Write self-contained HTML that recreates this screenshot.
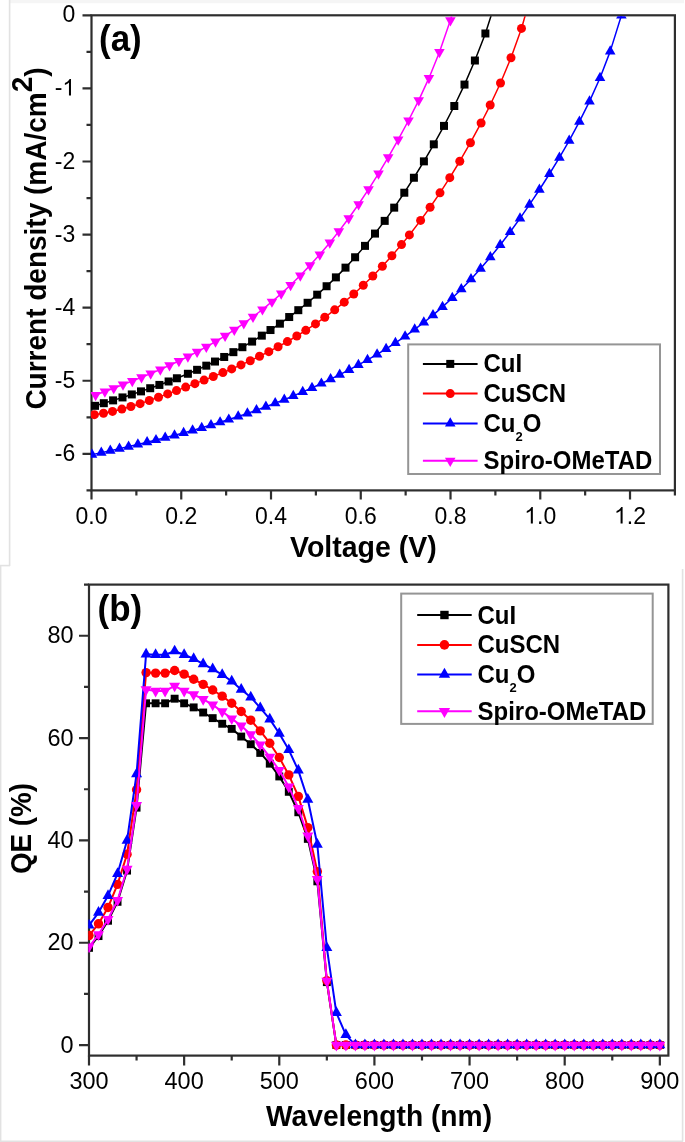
<!DOCTYPE html>
<html><head><meta charset="utf-8"><title>J-V and QE</title>
<style>html,body{margin:0;padding:0;background:#fff;width:685px;height:1142px;overflow:hidden}
body{position:relative}</style></head>
<body>
<svg width="685" height="1142" viewBox="0 0 685 1142" style="position:absolute;left:0;top:0;filter:blur(0.4px)">
<defs>
<clipPath id="ca"><rect x="90.9" y="16.3" width="584.0" height="474.09999999999997"/></clipPath>
<clipPath id="cb"><rect x="88.3" y="585.6" width="580.1" height="469.9999999999999"/></clipPath>
</defs>
<rect x="9" y="0" width="675" height="3.2" fill="#f5f5f5"/>
<line x1="9.6" y1="0" x2="9.6" y2="566" stroke="#e2e2e2" stroke-width="1.6"/>
<line x1="0" y1="565.6" x2="10" y2="565.6" stroke="#e2e2e2" stroke-width="1.6"/>
<line x1="0.6" y1="566" x2="0.6" y2="1142" stroke="#e2e2e2" stroke-width="1.6"/>
<line x1="682.6" y1="569" x2="682.6" y2="1141.5" stroke="#e2e2e2" stroke-width="1.6"/>
<line x1="0" y1="1141.2" x2="683" y2="1141.2" stroke="#e2e2e2" stroke-width="1.6"/>
<rect x="91.5" y="15.3" width="583.4" height="475.1" fill="none" stroke="#2e2e2e" stroke-width="2.2"/>
<path d="M91.5 490.4v9M136.38 490.4v5M181.25 490.4v9M226.13 490.4v5M271.01 490.4v9M315.88 490.4v5M360.76 490.4v9M405.64 490.4v5M450.52 490.4v9M495.39 490.4v5M540.27 490.4v9M585.15 490.4v5M630.02 490.4v9M674.9 490.4v5M91.5 15.3h-9M91.5 51.85h-5M91.5 88.39h-9M91.5 124.94h-5M91.5 161.48h-9M91.5 198.03h-5M91.5 234.58h-9M91.5 271.12h-5M91.5 307.67h-9M91.5 344.22h-5M91.5 380.76h-9M91.5 417.31h-5M91.5 453.85h-9M91.5 490.4h-5" stroke="#2e2e2e" stroke-width="2.2" fill="none"/>
<g clip-path="url(#ca)">
<polyline points="95,405.83 103.8,403.2 113.1,400.37 122.5,397.43 131.8,394.44 141,391.38 150.2,388.22 159.4,384.92 168.6,381.49 176.9,378.26 187.9,373.77 197.1,369.82 206.3,365.67 215,361.55 224.2,356.97 233.4,352.16 242.4,347.2 252.1,341.58 261.8,335.64 270.5,330.03 279.9,323.67 289.2,317.03 298.3,310.18 307.6,302.78 317.2,294.67 326.6,286.24 335.9,277.37 345.5,267.64 355.1,257.27 365,245.87 375,233.58 384.7,220.87 394.2,207.64 404.3,192.72 413.9,177.75 423.9,161.36 433.8,144.33 444,125.9 454.3,106 464.5,84.58 474.9,60.52 485.4,33.49 496.21,-0.35" fill="none" stroke="#000000" stroke-width="1.5" stroke-linejoin="round"/>
<rect x="91" y="401.83" width="8" height="8" fill="#000000"/>
<rect x="99.8" y="399.2" width="8" height="8" fill="#000000"/>
<rect x="109.1" y="396.37" width="8" height="8" fill="#000000"/>
<rect x="118.5" y="393.43" width="8" height="8" fill="#000000"/>
<rect x="127.8" y="390.44" width="8" height="8" fill="#000000"/>
<rect x="137" y="387.38" width="8" height="8" fill="#000000"/>
<rect x="146.2" y="384.22" width="8" height="8" fill="#000000"/>
<rect x="155.4" y="380.92" width="8" height="8" fill="#000000"/>
<rect x="164.6" y="377.49" width="8" height="8" fill="#000000"/>
<rect x="172.9" y="374.26" width="8" height="8" fill="#000000"/>
<rect x="183.9" y="369.77" width="8" height="8" fill="#000000"/>
<rect x="193.1" y="365.82" width="8" height="8" fill="#000000"/>
<rect x="202.3" y="361.67" width="8" height="8" fill="#000000"/>
<rect x="211" y="357.55" width="8" height="8" fill="#000000"/>
<rect x="220.2" y="352.97" width="8" height="8" fill="#000000"/>
<rect x="229.4" y="348.16" width="8" height="8" fill="#000000"/>
<rect x="238.4" y="343.2" width="8" height="8" fill="#000000"/>
<rect x="248.1" y="337.58" width="8" height="8" fill="#000000"/>
<rect x="257.8" y="331.64" width="8" height="8" fill="#000000"/>
<rect x="266.5" y="326.03" width="8" height="8" fill="#000000"/>
<rect x="275.9" y="319.67" width="8" height="8" fill="#000000"/>
<rect x="285.2" y="313.03" width="8" height="8" fill="#000000"/>
<rect x="294.3" y="306.18" width="8" height="8" fill="#000000"/>
<rect x="303.6" y="298.78" width="8" height="8" fill="#000000"/>
<rect x="313.2" y="290.67" width="8" height="8" fill="#000000"/>
<rect x="322.6" y="282.24" width="8" height="8" fill="#000000"/>
<rect x="331.9" y="273.37" width="8" height="8" fill="#000000"/>
<rect x="341.5" y="263.64" width="8" height="8" fill="#000000"/>
<rect x="351.1" y="253.27" width="8" height="8" fill="#000000"/>
<rect x="361" y="241.87" width="8" height="8" fill="#000000"/>
<rect x="371" y="229.58" width="8" height="8" fill="#000000"/>
<rect x="380.7" y="216.87" width="8" height="8" fill="#000000"/>
<rect x="390.2" y="203.64" width="8" height="8" fill="#000000"/>
<rect x="400.3" y="188.72" width="8" height="8" fill="#000000"/>
<rect x="409.9" y="173.75" width="8" height="8" fill="#000000"/>
<rect x="419.9" y="157.36" width="8" height="8" fill="#000000"/>
<rect x="429.8" y="140.33" width="8" height="8" fill="#000000"/>
<rect x="440" y="121.9" width="8" height="8" fill="#000000"/>
<rect x="450.3" y="102" width="8" height="8" fill="#000000"/>
<rect x="460.5" y="80.58" width="8" height="8" fill="#000000"/>
<rect x="470.9" y="56.52" width="8" height="8" fill="#000000"/>
<rect x="481.4" y="29.49" width="8" height="8" fill="#000000"/>
<rect x="492.21" y="-4.35" width="8" height="8" fill="#000000"/>
<polyline points="94.4,414.64 103.5,413.23 112.5,411.41 121.9,409.09 130.9,406.54 140.1,403.66 149.3,400.55 158.5,397.27 167.7,393.88 176.5,390.58 185.7,387.12 194.9,383.63 204.1,380.1 213.3,376.49 222.9,372.61 231.7,368.94 240.98,364.91 250.26,360.71 259.54,356.3 268.82,351.66 278.1,346.76 287.4,341.57 296.8,336 305.8,330.36 315.5,323.89 324.8,317.29 334.7,309.82 344.23,302.14 353.77,293.97 363.3,285.28 372.83,276.03 382.37,266.21 391.9,255.77 401.5,244.62 409.4,234.94 420.6,220.39 430.1,207.28 440,192.81 449.8,177.64 459.8,161.24 470.45,142.7 481.1,122.97 490.2,105.05 500.5,83.02 511,57.77 521.5,28.43 532.32,-9.31" fill="none" stroke="#ff0000" stroke-width="1.5" stroke-linejoin="round"/>
<circle cx="94.4" cy="414.64" r="4.5" fill="#ff0000"/>
<circle cx="103.5" cy="413.23" r="4.5" fill="#ff0000"/>
<circle cx="112.5" cy="411.41" r="4.5" fill="#ff0000"/>
<circle cx="121.9" cy="409.09" r="4.5" fill="#ff0000"/>
<circle cx="130.9" cy="406.54" r="4.5" fill="#ff0000"/>
<circle cx="140.1" cy="403.66" r="4.5" fill="#ff0000"/>
<circle cx="149.3" cy="400.55" r="4.5" fill="#ff0000"/>
<circle cx="158.5" cy="397.27" r="4.5" fill="#ff0000"/>
<circle cx="167.7" cy="393.88" r="4.5" fill="#ff0000"/>
<circle cx="176.5" cy="390.58" r="4.5" fill="#ff0000"/>
<circle cx="185.7" cy="387.12" r="4.5" fill="#ff0000"/>
<circle cx="194.9" cy="383.63" r="4.5" fill="#ff0000"/>
<circle cx="204.1" cy="380.1" r="4.5" fill="#ff0000"/>
<circle cx="213.3" cy="376.49" r="4.5" fill="#ff0000"/>
<circle cx="222.9" cy="372.61" r="4.5" fill="#ff0000"/>
<circle cx="231.7" cy="368.94" r="4.5" fill="#ff0000"/>
<circle cx="240.98" cy="364.91" r="4.5" fill="#ff0000"/>
<circle cx="250.26" cy="360.71" r="4.5" fill="#ff0000"/>
<circle cx="259.54" cy="356.3" r="4.5" fill="#ff0000"/>
<circle cx="268.82" cy="351.66" r="4.5" fill="#ff0000"/>
<circle cx="278.1" cy="346.76" r="4.5" fill="#ff0000"/>
<circle cx="287.4" cy="341.57" r="4.5" fill="#ff0000"/>
<circle cx="296.8" cy="336" r="4.5" fill="#ff0000"/>
<circle cx="305.8" cy="330.36" r="4.5" fill="#ff0000"/>
<circle cx="315.5" cy="323.89" r="4.5" fill="#ff0000"/>
<circle cx="324.8" cy="317.29" r="4.5" fill="#ff0000"/>
<circle cx="334.7" cy="309.82" r="4.5" fill="#ff0000"/>
<circle cx="344.23" cy="302.14" r="4.5" fill="#ff0000"/>
<circle cx="353.77" cy="293.97" r="4.5" fill="#ff0000"/>
<circle cx="363.3" cy="285.28" r="4.5" fill="#ff0000"/>
<circle cx="372.83" cy="276.03" r="4.5" fill="#ff0000"/>
<circle cx="382.37" cy="266.21" r="4.5" fill="#ff0000"/>
<circle cx="391.9" cy="255.77" r="4.5" fill="#ff0000"/>
<circle cx="401.5" cy="244.62" r="4.5" fill="#ff0000"/>
<circle cx="409.4" cy="234.94" r="4.5" fill="#ff0000"/>
<circle cx="420.6" cy="220.39" r="4.5" fill="#ff0000"/>
<circle cx="430.1" cy="207.28" r="4.5" fill="#ff0000"/>
<circle cx="440" cy="192.81" r="4.5" fill="#ff0000"/>
<circle cx="449.8" cy="177.64" r="4.5" fill="#ff0000"/>
<circle cx="459.8" cy="161.24" r="4.5" fill="#ff0000"/>
<circle cx="470.45" cy="142.7" r="4.5" fill="#ff0000"/>
<circle cx="481.1" cy="122.97" r="4.5" fill="#ff0000"/>
<circle cx="490.2" cy="105.05" r="4.5" fill="#ff0000"/>
<circle cx="500.5" cy="83.02" r="4.5" fill="#ff0000"/>
<circle cx="511" cy="57.77" r="4.5" fill="#ff0000"/>
<circle cx="521.5" cy="28.43" r="4.5" fill="#ff0000"/>
<circle cx="532.32" cy="-9.31" r="4.5" fill="#ff0000"/>
<polyline points="92,454.62 101.3,452.63 110.3,450.68 119.5,448.63 128.6,446.57 137.9,444.41 147.1,442.22 156,440.05 165.2,437.74 174.5,435.33 183.6,432.89 192.6,430.41 201.7,427.81 211,425.07 220.1,422.29 228.8,419.54 238.2,416.46 247.4,413.34 256.5,410.13 265.9,406.7 275.2,403.17 284.3,399.58 293.3,395.9 302.7,391.92 312,387.82 321.4,383.52 330.6,379.15 339.7,374.67 349.1,369.87 358.4,364.94 367.5,359.91 377.1,354.35 386.1,348.88 395.4,342.92 405.1,336.35 414.7,329.45 423.8,322.51 433,315.07 442.5,306.91 452.3,297.94 461.3,289.19 471,279.16 480.6,268.6 490.3,257.25 500.2,244.98 510.1,232.01 520,218.37 529.5,204.65 539.4,189.72 549.4,173.99 559.4,157.58 569.2,140.58 579.4,121.65 589.5,101.35 600,77.98 610.2,51.39 621.4,15.48 632.94,-32.15" fill="none" stroke="#0000ff" stroke-width="1.5" stroke-linejoin="round"/>
<path d="M92 448.49L97.3 457.69L86.7 457.69Z" fill="#0000ff"/>
<path d="M101.3 446.5L106.6 455.7L96 455.7Z" fill="#0000ff"/>
<path d="M110.3 444.54L115.6 453.74L105 453.74Z" fill="#0000ff"/>
<path d="M119.5 442.5L124.8 451.7L114.2 451.7Z" fill="#0000ff"/>
<path d="M128.6 440.44L133.9 449.64L123.3 449.64Z" fill="#0000ff"/>
<path d="M137.9 438.28L143.2 447.48L132.6 447.48Z" fill="#0000ff"/>
<path d="M147.1 436.09L152.4 445.29L141.8 445.29Z" fill="#0000ff"/>
<path d="M156 433.92L161.3 443.12L150.7 443.12Z" fill="#0000ff"/>
<path d="M165.2 431.6L170.5 440.8L159.9 440.8Z" fill="#0000ff"/>
<path d="M174.5 429.19L179.8 438.39L169.2 438.39Z" fill="#0000ff"/>
<path d="M183.6 426.76L188.9 435.96L178.3 435.96Z" fill="#0000ff"/>
<path d="M192.6 424.28L197.9 433.48L187.3 433.48Z" fill="#0000ff"/>
<path d="M201.7 421.68L207 430.88L196.4 430.88Z" fill="#0000ff"/>
<path d="M211 418.94L216.3 428.14L205.7 428.14Z" fill="#0000ff"/>
<path d="M220.1 416.16L225.4 425.36L214.8 425.36Z" fill="#0000ff"/>
<path d="M228.8 413.41L234.1 422.61L223.5 422.61Z" fill="#0000ff"/>
<path d="M238.2 410.33L243.5 419.53L232.9 419.53Z" fill="#0000ff"/>
<path d="M247.4 407.2L252.7 416.4L242.1 416.4Z" fill="#0000ff"/>
<path d="M256.5 404L261.8 413.2L251.2 413.2Z" fill="#0000ff"/>
<path d="M265.9 400.56L271.2 409.76L260.6 409.76Z" fill="#0000ff"/>
<path d="M275.2 397.03L280.5 406.23L269.9 406.23Z" fill="#0000ff"/>
<path d="M284.3 393.45L289.6 402.65L279 402.65Z" fill="#0000ff"/>
<path d="M293.3 389.77L298.6 398.97L288 398.97Z" fill="#0000ff"/>
<path d="M302.7 385.78L308 394.98L297.4 394.98Z" fill="#0000ff"/>
<path d="M312 381.69L317.3 390.89L306.7 390.89Z" fill="#0000ff"/>
<path d="M321.4 377.39L326.7 386.59L316.1 386.59Z" fill="#0000ff"/>
<path d="M330.6 373.02L335.9 382.22L325.3 382.22Z" fill="#0000ff"/>
<path d="M339.7 368.54L345 377.74L334.4 377.74Z" fill="#0000ff"/>
<path d="M349.1 363.74L354.4 372.94L343.8 372.94Z" fill="#0000ff"/>
<path d="M358.4 358.81L363.7 368.01L353.1 368.01Z" fill="#0000ff"/>
<path d="M367.5 353.78L372.8 362.98L362.2 362.98Z" fill="#0000ff"/>
<path d="M377.1 348.22L382.4 357.42L371.8 357.42Z" fill="#0000ff"/>
<path d="M386.1 342.74L391.4 351.94L380.8 351.94Z" fill="#0000ff"/>
<path d="M395.4 336.79L400.7 345.99L390.1 345.99Z" fill="#0000ff"/>
<path d="M405.1 330.21L410.4 339.41L399.8 339.41Z" fill="#0000ff"/>
<path d="M414.7 323.31L420 332.51L409.4 332.51Z" fill="#0000ff"/>
<path d="M423.8 316.37L429.1 325.57L418.5 325.57Z" fill="#0000ff"/>
<path d="M433 308.94L438.3 318.14L427.7 318.14Z" fill="#0000ff"/>
<path d="M442.5 300.77L447.8 309.97L437.2 309.97Z" fill="#0000ff"/>
<path d="M452.3 291.81L457.6 301.01L447 301.01Z" fill="#0000ff"/>
<path d="M461.3 283.06L466.6 292.26L456 292.26Z" fill="#0000ff"/>
<path d="M471 273.03L476.3 282.23L465.7 282.23Z" fill="#0000ff"/>
<path d="M480.6 262.47L485.9 271.67L475.3 271.67Z" fill="#0000ff"/>
<path d="M490.3 251.12L495.6 260.32L485 260.32Z" fill="#0000ff"/>
<path d="M500.2 238.84L505.5 248.04L494.9 248.04Z" fill="#0000ff"/>
<path d="M510.1 225.88L515.4 235.08L504.8 235.08Z" fill="#0000ff"/>
<path d="M520 212.23L525.3 221.43L514.7 221.43Z" fill="#0000ff"/>
<path d="M529.5 198.52L534.8 207.72L524.2 207.72Z" fill="#0000ff"/>
<path d="M539.4 183.59L544.7 192.79L534.1 192.79Z" fill="#0000ff"/>
<path d="M549.4 167.86L554.7 177.06L544.1 177.06Z" fill="#0000ff"/>
<path d="M559.4 151.44L564.7 160.64L554.1 160.64Z" fill="#0000ff"/>
<path d="M569.2 134.45L574.5 143.65L563.9 143.65Z" fill="#0000ff"/>
<path d="M579.4 115.52L584.7 124.72L574.1 124.72Z" fill="#0000ff"/>
<path d="M589.5 95.21L594.8 104.41L584.2 104.41Z" fill="#0000ff"/>
<path d="M600 71.84L605.3 81.04L594.7 81.04Z" fill="#0000ff"/>
<path d="M610.2 45.25L615.5 54.45L604.9 54.45Z" fill="#0000ff"/>
<path d="M621.4 9.35L626.7 18.55L616.1 18.55Z" fill="#0000ff"/>
<path d="M632.94 -38.29L638.24 -29.09L627.64 -29.09Z" fill="#0000ff"/>
<polyline points="95.6,395.04 104.9,391.55 113.7,388.22 123,384.67 132.3,381.05 141.5,377.38 150.7,373.6 160.3,369.5 169.5,365.41 178.9,361.04 187.9,356.64 197.1,351.91 206.3,346.93 215.5,341.66 225.1,335.83 234.3,329.91 243.8,323.42 253,316.75 262.45,309.47 271.95,301.7 281.2,293.67 290.6,285 300.3,275.49 310,265.37 319.8,254.5 329.8,242.68 338.8,231.4 348.7,218.24 358.6,204.27 368.5,189.44 378.5,173.58 388.2,157.32 398.2,139.66 408.5,120.48 418.7,100.33 428.9,78.16 439.4,52.18 450.4,20.34 461.73,-20.68" fill="none" stroke="#ff00ff" stroke-width="1.5" stroke-linejoin="round"/>
<path d="M90.3 391.97L100.9 391.97L95.6 401.17Z" fill="#ff00ff"/>
<path d="M99.6 388.48L110.2 388.48L104.9 397.68Z" fill="#ff00ff"/>
<path d="M108.4 385.16L119 385.16L113.7 394.36Z" fill="#ff00ff"/>
<path d="M117.7 381.61L128.3 381.61L123 390.81Z" fill="#ff00ff"/>
<path d="M127 377.99L137.6 377.99L132.3 387.19Z" fill="#ff00ff"/>
<path d="M136.2 374.32L146.8 374.32L141.5 383.52Z" fill="#ff00ff"/>
<path d="M145.4 370.53L156 370.53L150.7 379.73Z" fill="#ff00ff"/>
<path d="M155 366.44L165.6 366.44L160.3 375.64Z" fill="#ff00ff"/>
<path d="M164.2 362.34L174.8 362.34L169.5 371.54Z" fill="#ff00ff"/>
<path d="M173.6 357.97L184.2 357.97L178.9 367.17Z" fill="#ff00ff"/>
<path d="M182.6 353.57L193.2 353.57L187.9 362.77Z" fill="#ff00ff"/>
<path d="M191.8 348.85L202.4 348.85L197.1 358.05Z" fill="#ff00ff"/>
<path d="M201 343.86L211.6 343.86L206.3 353.06Z" fill="#ff00ff"/>
<path d="M210.2 338.59L220.8 338.59L215.5 347.79Z" fill="#ff00ff"/>
<path d="M219.8 332.77L230.4 332.77L225.1 341.97Z" fill="#ff00ff"/>
<path d="M229 326.84L239.6 326.84L234.3 336.04Z" fill="#ff00ff"/>
<path d="M238.5 320.35L249.1 320.35L243.8 329.55Z" fill="#ff00ff"/>
<path d="M247.7 313.68L258.3 313.68L253 322.88Z" fill="#ff00ff"/>
<path d="M257.15 306.41L267.75 306.41L262.45 315.61Z" fill="#ff00ff"/>
<path d="M266.65 298.64L277.25 298.64L271.95 307.84Z" fill="#ff00ff"/>
<path d="M275.9 290.6L286.5 290.6L281.2 299.8Z" fill="#ff00ff"/>
<path d="M285.3 281.93L295.9 281.93L290.6 291.13Z" fill="#ff00ff"/>
<path d="M295 272.43L305.6 272.43L300.3 281.63Z" fill="#ff00ff"/>
<path d="M304.7 262.31L315.3 262.31L310 271.51Z" fill="#ff00ff"/>
<path d="M314.5 251.43L325.1 251.43L319.8 260.63Z" fill="#ff00ff"/>
<path d="M324.5 239.62L335.1 239.62L329.8 248.82Z" fill="#ff00ff"/>
<path d="M333.5 228.33L344.1 228.33L338.8 237.53Z" fill="#ff00ff"/>
<path d="M343.4 215.18L354 215.18L348.7 224.38Z" fill="#ff00ff"/>
<path d="M353.3 201.2L363.9 201.2L358.6 210.4Z" fill="#ff00ff"/>
<path d="M363.2 186.37L373.8 186.37L368.5 195.57Z" fill="#ff00ff"/>
<path d="M373.2 170.51L383.8 170.51L378.5 179.71Z" fill="#ff00ff"/>
<path d="M382.9 154.26L393.5 154.26L388.2 163.46Z" fill="#ff00ff"/>
<path d="M392.9 136.59L403.5 136.59L398.2 145.79Z" fill="#ff00ff"/>
<path d="M403.2 117.42L413.8 117.42L408.5 126.62Z" fill="#ff00ff"/>
<path d="M413.4 97.26L424 97.26L418.7 106.46Z" fill="#ff00ff"/>
<path d="M423.6 75.1L434.2 75.1L428.9 84.3Z" fill="#ff00ff"/>
<path d="M434.1 49.12L444.7 49.12L439.4 58.32Z" fill="#ff00ff"/>
<path d="M445.1 17.27L455.7 17.27L450.4 26.47Z" fill="#ff00ff"/>
<path d="M456.43 -23.75L467.03 -23.75L461.73 -14.55Z" fill="#ff00ff"/>
</g>
<text transform="translate(91.5,523.5) scale(1,1.045)" font-family="Liberation Sans" font-size="23" text-anchor="middle">0.0</text>
<text transform="translate(181.25,523.5) scale(1,1.045)" font-family="Liberation Sans" font-size="23" text-anchor="middle">0.2</text>
<text transform="translate(271.01,523.5) scale(1,1.045)" font-family="Liberation Sans" font-size="23" text-anchor="middle">0.4</text>
<text transform="translate(360.76,523.5) scale(1,1.045)" font-family="Liberation Sans" font-size="23" text-anchor="middle">0.6</text>
<text transform="translate(450.52,523.5) scale(1,1.045)" font-family="Liberation Sans" font-size="23" text-anchor="middle">0.8</text>
<text transform="translate(540.27,523.5) scale(1,1.045)" font-family="Liberation Sans" font-size="23" text-anchor="middle">&#8199;.0</text>
<path transform="translate(524.28,523.5) scale(0.011230,-0.011230)" d="M583 1147Q518 1085 415 1024Q312 963 221 929L221 1103Q372 1174 485 1275Q598 1376 647 1466L763 1466L763 0L583 0Z"/>
<text transform="translate(630.02,523.5) scale(1,1.045)" font-family="Liberation Sans" font-size="23" text-anchor="middle">&#8199;.2</text>
<path transform="translate(614.04,523.5) scale(0.011230,-0.011230)" d="M583 1147Q518 1085 415 1024Q312 963 221 929L221 1103Q372 1174 485 1275Q598 1376 647 1466L763 1466L763 0L583 0Z"/>
<text transform="translate(75.2,22.4) scale(1,1.045)" font-family="Liberation Sans" font-size="23" text-anchor="end">0</text>
<text transform="translate(75.2,95.49) scale(1,1.045)" font-family="Liberation Sans" font-size="23" text-anchor="end">-&#8199;</text>
<path transform="translate(62.41,95.49) scale(0.011230,-0.011230)" d="M583 1147Q518 1085 415 1024Q312 963 221 929L221 1103Q372 1174 485 1275Q598 1376 647 1466L763 1466L763 0L583 0Z"/>
<text transform="translate(75.2,168.58) scale(1,1.045)" font-family="Liberation Sans" font-size="23" text-anchor="end">-2</text>
<text transform="translate(75.2,241.68) scale(1,1.045)" font-family="Liberation Sans" font-size="23" text-anchor="end">-3</text>
<text transform="translate(75.2,314.77) scale(1,1.045)" font-family="Liberation Sans" font-size="23" text-anchor="end">-4</text>
<text transform="translate(75.2,387.86) scale(1,1.045)" font-family="Liberation Sans" font-size="23" text-anchor="end">-5</text>
<text transform="translate(75.2,460.95) scale(1,1.045)" font-family="Liberation Sans" font-size="23" text-anchor="end">-6</text>
<text transform="translate(99,50.5) scale(1,1.045)" font-family="Liberation Sans" font-size="35" font-weight="bold">(a)</text>
<text transform="translate(290,556.8) scale(1,1.045)" font-family="Liberation Sans" font-size="28.5" font-weight="bold">Voltage (V)</text>
<text transform="translate(46,409.6) rotate(-90) scale(1,1.045)" font-family="Liberation Sans" font-size="28" font-weight="bold">Current density (mA/cm<tspan dy="-13">2</tspan><tspan dy="13">)</tspan></text>
<rect x="408.2" y="344.4" width="251.8" height="129.6" fill="none" stroke="#959595" stroke-width="2"/>
<line x1="422.9" y1="363.9" x2="477.6" y2="363.9" stroke="#000000" stroke-width="2"/>
<rect x="446.25" y="359.9" width="8" height="8" fill="#000000"/>
<text transform="translate(483.5,372.4) scale(1,1.045)" font-family="Liberation Sans" font-size="24" font-weight="bold">CuI</text>
<line x1="422.9" y1="393.6" x2="477.6" y2="393.6" stroke="#ff0000" stroke-width="2"/>
<circle cx="450.25" cy="393.6" r="4.5" fill="#ff0000"/>
<text transform="translate(483.5,402.1) scale(1,1.045)" font-family="Liberation Sans" font-size="24" font-weight="bold">CuSCN</text>
<line x1="422.9" y1="423.5" x2="477.6" y2="423.5" stroke="#0000ff" stroke-width="2"/>
<path d="M450.25 417.37L455.55 426.57L444.95 426.57Z" fill="#0000ff"/>
<text transform="translate(483.5,432) scale(1,1.045)" font-family="Liberation Sans" font-size="24" font-weight="bold">Cu<tspan font-size="13" dy="8.5">2</tspan><tspan dy="-8.5">O</tspan></text>
<line x1="422.9" y1="460.8" x2="477.6" y2="460.8" stroke="#ff00ff" stroke-width="2"/>
<path d="M444.95 457.73L455.55 457.73L450.25 466.93Z" fill="#ff00ff"/>
<text transform="translate(483.5,469.3) scale(1,1.045)" font-family="Liberation Sans" font-size="24" font-weight="bold">Spiro-OMeTAD</text>
<rect x="89.0" y="584.6" width="579.4" height="471" fill="none" stroke="#2e2e2e" stroke-width="2.2"/>
<path d="M89 1055.6v10M136.57 1055.6v5M184.14 1055.6v10M231.71 1055.6v5M279.28 1055.6v10M326.85 1055.6v5M374.42 1055.6v10M421.99 1055.6v5M469.56 1055.6v10M517.13 1055.6v5M564.7 1055.6v10M612.27 1055.6v5M659.84 1055.6v10M89.0 1045.06h-10M89.0 993.9h-5M89.0 942.74h-10M89.0 891.57h-5M89.0 840.41h-10M89.0 789.25h-5M89.0 738.09h-10M89.0 686.92h-5M89.0 635.76h-10M89.0 584.6h-5" stroke="#2e2e2e" stroke-width="2.2" fill="none"/>
<g clip-path="url(#cb)">
<polyline points="89,947.85 98.51,936.08 108.03,920.74 117.54,901.81 127.06,870.6 136.57,807.67 146.08,703.3 155.6,703.3 165.11,703.3 174.63,698.69 184.14,703.3 193.65,707.39 203.17,712.51 212.68,718.13 222.2,723.76 231.71,728.88 241.22,736.55 250.74,744.23 260.25,752.92 269.77,763.67 279.28,776.46 288.79,791.81 298.31,812.27 307.82,838.88 317.33,881.34 326.85,982.13 336.36,1045.06 345.88,1045.06 355.39,1045.06 364.9,1045.06 374.42,1045.06 383.93,1045.06 393.45,1045.06 402.96,1045.06 412.47,1045.06 421.99,1045.06 431.5,1045.06 441.02,1045.06 450.53,1045.06 460.04,1045.06 469.56,1045.06 479.07,1045.06 488.59,1045.06 498.1,1045.06 507.61,1045.06 517.13,1045.06 526.64,1045.06 536.16,1045.06 545.67,1045.06 555.18,1045.06 564.7,1045.06 574.21,1045.06 583.73,1045.06 593.24,1045.06 602.75,1045.06 612.27,1045.06 621.78,1045.06 631.3,1045.06 640.81,1045.06 650.32,1045.06 659.84,1045.06" fill="none" stroke="#000000" stroke-width="2.0" stroke-linejoin="round"/>
<rect x="85.05" y="943.9" width="7.9" height="7.9" fill="#000000"/>
<rect x="94.56" y="932.13" width="7.9" height="7.9" fill="#000000"/>
<rect x="104.08" y="916.79" width="7.9" height="7.9" fill="#000000"/>
<rect x="113.59" y="897.86" width="7.9" height="7.9" fill="#000000"/>
<rect x="123.11" y="866.65" width="7.9" height="7.9" fill="#000000"/>
<rect x="132.62" y="803.72" width="7.9" height="7.9" fill="#000000"/>
<rect x="142.13" y="699.35" width="7.9" height="7.9" fill="#000000"/>
<rect x="151.65" y="699.35" width="7.9" height="7.9" fill="#000000"/>
<rect x="161.16" y="699.35" width="7.9" height="7.9" fill="#000000"/>
<rect x="170.68" y="694.74" width="7.9" height="7.9" fill="#000000"/>
<rect x="180.19" y="699.35" width="7.9" height="7.9" fill="#000000"/>
<rect x="189.7" y="703.44" width="7.9" height="7.9" fill="#000000"/>
<rect x="199.22" y="708.56" width="7.9" height="7.9" fill="#000000"/>
<rect x="208.73" y="714.18" width="7.9" height="7.9" fill="#000000"/>
<rect x="218.25" y="719.81" width="7.9" height="7.9" fill="#000000"/>
<rect x="227.76" y="724.93" width="7.9" height="7.9" fill="#000000"/>
<rect x="237.27" y="732.6" width="7.9" height="7.9" fill="#000000"/>
<rect x="246.79" y="740.28" width="7.9" height="7.9" fill="#000000"/>
<rect x="256.3" y="748.97" width="7.9" height="7.9" fill="#000000"/>
<rect x="265.82" y="759.72" width="7.9" height="7.9" fill="#000000"/>
<rect x="275.33" y="772.51" width="7.9" height="7.9" fill="#000000"/>
<rect x="284.84" y="787.86" width="7.9" height="7.9" fill="#000000"/>
<rect x="294.36" y="808.32" width="7.9" height="7.9" fill="#000000"/>
<rect x="303.87" y="834.93" width="7.9" height="7.9" fill="#000000"/>
<rect x="313.38" y="877.39" width="7.9" height="7.9" fill="#000000"/>
<rect x="322.9" y="978.18" width="7.9" height="7.9" fill="#000000"/>
<rect x="332.41" y="1041.11" width="7.9" height="7.9" fill="#000000"/>
<rect x="341.93" y="1041.11" width="7.9" height="7.9" fill="#000000"/>
<rect x="351.44" y="1041.11" width="7.9" height="7.9" fill="#000000"/>
<rect x="360.95" y="1041.11" width="7.9" height="7.9" fill="#000000"/>
<rect x="370.47" y="1041.11" width="7.9" height="7.9" fill="#000000"/>
<rect x="379.98" y="1041.11" width="7.9" height="7.9" fill="#000000"/>
<rect x="389.5" y="1041.11" width="7.9" height="7.9" fill="#000000"/>
<rect x="399.01" y="1041.11" width="7.9" height="7.9" fill="#000000"/>
<rect x="408.52" y="1041.11" width="7.9" height="7.9" fill="#000000"/>
<rect x="418.04" y="1041.11" width="7.9" height="7.9" fill="#000000"/>
<rect x="427.55" y="1041.11" width="7.9" height="7.9" fill="#000000"/>
<rect x="437.07" y="1041.11" width="7.9" height="7.9" fill="#000000"/>
<rect x="446.58" y="1041.11" width="7.9" height="7.9" fill="#000000"/>
<rect x="456.09" y="1041.11" width="7.9" height="7.9" fill="#000000"/>
<rect x="465.61" y="1041.11" width="7.9" height="7.9" fill="#000000"/>
<rect x="475.12" y="1041.11" width="7.9" height="7.9" fill="#000000"/>
<rect x="484.64" y="1041.11" width="7.9" height="7.9" fill="#000000"/>
<rect x="494.15" y="1041.11" width="7.9" height="7.9" fill="#000000"/>
<rect x="503.66" y="1041.11" width="7.9" height="7.9" fill="#000000"/>
<rect x="513.18" y="1041.11" width="7.9" height="7.9" fill="#000000"/>
<rect x="522.69" y="1041.11" width="7.9" height="7.9" fill="#000000"/>
<rect x="532.21" y="1041.11" width="7.9" height="7.9" fill="#000000"/>
<rect x="541.72" y="1041.11" width="7.9" height="7.9" fill="#000000"/>
<rect x="551.23" y="1041.11" width="7.9" height="7.9" fill="#000000"/>
<rect x="560.75" y="1041.11" width="7.9" height="7.9" fill="#000000"/>
<rect x="570.26" y="1041.11" width="7.9" height="7.9" fill="#000000"/>
<rect x="579.78" y="1041.11" width="7.9" height="7.9" fill="#000000"/>
<rect x="589.29" y="1041.11" width="7.9" height="7.9" fill="#000000"/>
<rect x="598.8" y="1041.11" width="7.9" height="7.9" fill="#000000"/>
<rect x="608.32" y="1041.11" width="7.9" height="7.9" fill="#000000"/>
<rect x="617.83" y="1041.11" width="7.9" height="7.9" fill="#000000"/>
<rect x="627.35" y="1041.11" width="7.9" height="7.9" fill="#000000"/>
<rect x="636.86" y="1041.11" width="7.9" height="7.9" fill="#000000"/>
<rect x="646.37" y="1041.11" width="7.9" height="7.9" fill="#000000"/>
<rect x="655.89" y="1041.11" width="7.9" height="7.9" fill="#000000"/>
<polyline points="89,935.57 98.51,923.81 108.03,907.43 117.54,884.41 127.06,854.23 136.57,789.76 146.08,672.6 155.6,673.11 165.11,673.11 174.63,670.55 184.14,674.13 193.65,679.25 203.17,684.37 212.68,689.99 222.2,696.13 231.71,703.3 241.22,711.48 250.74,720.18 260.25,730.92 269.77,743.2 279.28,757.53 288.79,774.92 298.31,796.41 307.82,827.62 317.33,871.62 326.85,980.6 336.36,1045.06 345.88,1045.06 355.39,1045.06 364.9,1045.06 374.42,1045.06 383.93,1045.06 393.45,1045.06 402.96,1045.06 412.47,1045.06 421.99,1045.06 431.5,1045.06 441.02,1045.06 450.53,1045.06 460.04,1045.06 469.56,1045.06 479.07,1045.06 488.59,1045.06 498.1,1045.06 507.61,1045.06 517.13,1045.06 526.64,1045.06 536.16,1045.06 545.67,1045.06 555.18,1045.06 564.7,1045.06 574.21,1045.06 583.73,1045.06 593.24,1045.06 602.75,1045.06 612.27,1045.06 621.78,1045.06 631.3,1045.06 640.81,1045.06 650.32,1045.06 659.84,1045.06" fill="none" stroke="#ff0000" stroke-width="2.0" stroke-linejoin="round"/>
<circle cx="89" cy="935.57" r="4.7" fill="#ff0000"/>
<circle cx="98.51" cy="923.81" r="4.7" fill="#ff0000"/>
<circle cx="108.03" cy="907.43" r="4.7" fill="#ff0000"/>
<circle cx="117.54" cy="884.41" r="4.7" fill="#ff0000"/>
<circle cx="127.06" cy="854.23" r="4.7" fill="#ff0000"/>
<circle cx="136.57" cy="789.76" r="4.7" fill="#ff0000"/>
<circle cx="146.08" cy="672.6" r="4.7" fill="#ff0000"/>
<circle cx="155.6" cy="673.11" r="4.7" fill="#ff0000"/>
<circle cx="165.11" cy="673.11" r="4.7" fill="#ff0000"/>
<circle cx="174.63" cy="670.55" r="4.7" fill="#ff0000"/>
<circle cx="184.14" cy="674.13" r="4.7" fill="#ff0000"/>
<circle cx="193.65" cy="679.25" r="4.7" fill="#ff0000"/>
<circle cx="203.17" cy="684.37" r="4.7" fill="#ff0000"/>
<circle cx="212.68" cy="689.99" r="4.7" fill="#ff0000"/>
<circle cx="222.2" cy="696.13" r="4.7" fill="#ff0000"/>
<circle cx="231.71" cy="703.3" r="4.7" fill="#ff0000"/>
<circle cx="241.22" cy="711.48" r="4.7" fill="#ff0000"/>
<circle cx="250.74" cy="720.18" r="4.7" fill="#ff0000"/>
<circle cx="260.25" cy="730.92" r="4.7" fill="#ff0000"/>
<circle cx="269.77" cy="743.2" r="4.7" fill="#ff0000"/>
<circle cx="279.28" cy="757.53" r="4.7" fill="#ff0000"/>
<circle cx="288.79" cy="774.92" r="4.7" fill="#ff0000"/>
<circle cx="298.31" cy="796.41" r="4.7" fill="#ff0000"/>
<circle cx="307.82" cy="827.62" r="4.7" fill="#ff0000"/>
<circle cx="317.33" cy="871.62" r="4.7" fill="#ff0000"/>
<circle cx="326.85" cy="980.6" r="4.7" fill="#ff0000"/>
<circle cx="336.36" cy="1045.06" r="4.7" fill="#ff0000"/>
<circle cx="345.88" cy="1045.06" r="4.7" fill="#ff0000"/>
<circle cx="355.39" cy="1045.06" r="4.7" fill="#ff0000"/>
<circle cx="364.9" cy="1045.06" r="4.7" fill="#ff0000"/>
<circle cx="374.42" cy="1045.06" r="4.7" fill="#ff0000"/>
<circle cx="383.93" cy="1045.06" r="4.7" fill="#ff0000"/>
<circle cx="393.45" cy="1045.06" r="4.7" fill="#ff0000"/>
<circle cx="402.96" cy="1045.06" r="4.7" fill="#ff0000"/>
<circle cx="412.47" cy="1045.06" r="4.7" fill="#ff0000"/>
<circle cx="421.99" cy="1045.06" r="4.7" fill="#ff0000"/>
<circle cx="431.5" cy="1045.06" r="4.7" fill="#ff0000"/>
<circle cx="441.02" cy="1045.06" r="4.7" fill="#ff0000"/>
<circle cx="450.53" cy="1045.06" r="4.7" fill="#ff0000"/>
<circle cx="460.04" cy="1045.06" r="4.7" fill="#ff0000"/>
<circle cx="469.56" cy="1045.06" r="4.7" fill="#ff0000"/>
<circle cx="479.07" cy="1045.06" r="4.7" fill="#ff0000"/>
<circle cx="488.59" cy="1045.06" r="4.7" fill="#ff0000"/>
<circle cx="498.1" cy="1045.06" r="4.7" fill="#ff0000"/>
<circle cx="507.61" cy="1045.06" r="4.7" fill="#ff0000"/>
<circle cx="517.13" cy="1045.06" r="4.7" fill="#ff0000"/>
<circle cx="526.64" cy="1045.06" r="4.7" fill="#ff0000"/>
<circle cx="536.16" cy="1045.06" r="4.7" fill="#ff0000"/>
<circle cx="545.67" cy="1045.06" r="4.7" fill="#ff0000"/>
<circle cx="555.18" cy="1045.06" r="4.7" fill="#ff0000"/>
<circle cx="564.7" cy="1045.06" r="4.7" fill="#ff0000"/>
<circle cx="574.21" cy="1045.06" r="4.7" fill="#ff0000"/>
<circle cx="583.73" cy="1045.06" r="4.7" fill="#ff0000"/>
<circle cx="593.24" cy="1045.06" r="4.7" fill="#ff0000"/>
<circle cx="602.75" cy="1045.06" r="4.7" fill="#ff0000"/>
<circle cx="612.27" cy="1045.06" r="4.7" fill="#ff0000"/>
<circle cx="621.78" cy="1045.06" r="4.7" fill="#ff0000"/>
<circle cx="631.3" cy="1045.06" r="4.7" fill="#ff0000"/>
<circle cx="640.81" cy="1045.06" r="4.7" fill="#ff0000"/>
<circle cx="650.32" cy="1045.06" r="4.7" fill="#ff0000"/>
<circle cx="659.84" cy="1045.06" r="4.7" fill="#ff0000"/>
<polyline points="89,925.34 98.51,912.55 108.03,895.67 117.54,873.67 127.06,840.41 136.57,773.9 146.08,654.18 155.6,654.69 165.11,654.69 174.63,651.11 184.14,654.69 193.65,658.79 203.17,663.9 212.68,669.02 222.2,674.65 231.71,681.3 241.22,689.48 250.74,697.16 260.25,707.9 269.77,719.16 279.28,733.48 288.79,749.85 298.31,770.32 307.82,799.48 317.33,844.5 326.85,947.85 336.36,1012.83 345.88,1034.83 355.39,1045.06 364.9,1045.06 374.42,1045.06 383.93,1045.06 393.45,1045.06 402.96,1045.06 412.47,1045.06 421.99,1045.06 431.5,1045.06 441.02,1045.06 450.53,1045.06 460.04,1045.06 469.56,1045.06 479.07,1045.06 488.59,1045.06 498.1,1045.06 507.61,1045.06 517.13,1045.06 526.64,1045.06 536.16,1045.06 545.67,1045.06 555.18,1045.06 564.7,1045.06 574.21,1045.06 583.73,1045.06 593.24,1045.06 602.75,1045.06 612.27,1045.06 621.78,1045.06 631.3,1045.06 640.81,1045.06 650.32,1045.06 659.84,1045.06" fill="none" stroke="#0000ff" stroke-width="2.0" stroke-linejoin="round"/>
<path d="M89 918.87L94.5 928.57L83.5 928.57Z" fill="#0000ff"/>
<path d="M98.51 906.08L104.01 915.78L93.01 915.78Z" fill="#0000ff"/>
<path d="M108.03 889.2L113.53 898.9L102.53 898.9Z" fill="#0000ff"/>
<path d="M117.54 867.2L123.04 876.9L112.04 876.9Z" fill="#0000ff"/>
<path d="M127.06 833.94L132.56 843.64L121.56 843.64Z" fill="#0000ff"/>
<path d="M136.57 767.43L142.07 777.13L131.07 777.13Z" fill="#0000ff"/>
<path d="M146.08 647.71L151.58 657.41L140.58 657.41Z" fill="#0000ff"/>
<path d="M155.6 648.23L161.1 657.93L150.1 657.93Z" fill="#0000ff"/>
<path d="M165.11 648.23L170.61 657.93L159.61 657.93Z" fill="#0000ff"/>
<path d="M174.63 644.64L180.13 654.34L169.13 654.34Z" fill="#0000ff"/>
<path d="M184.14 648.23L189.64 657.93L178.64 657.93Z" fill="#0000ff"/>
<path d="M193.65 652.32L199.15 662.02L188.15 662.02Z" fill="#0000ff"/>
<path d="M203.17 657.43L208.67 667.13L197.67 667.13Z" fill="#0000ff"/>
<path d="M212.68 662.55L218.18 672.25L207.18 672.25Z" fill="#0000ff"/>
<path d="M222.2 668.18L227.7 677.88L216.7 677.88Z" fill="#0000ff"/>
<path d="M231.71 674.83L237.21 684.53L226.21 684.53Z" fill="#0000ff"/>
<path d="M241.22 683.02L246.72 692.72L235.72 692.72Z" fill="#0000ff"/>
<path d="M250.74 690.69L256.24 700.39L245.24 700.39Z" fill="#0000ff"/>
<path d="M260.25 701.43L265.75 711.13L254.75 711.13Z" fill="#0000ff"/>
<path d="M269.77 712.69L275.27 722.39L264.27 722.39Z" fill="#0000ff"/>
<path d="M279.28 727.02L284.78 736.72L273.78 736.72Z" fill="#0000ff"/>
<path d="M288.79 743.39L294.29 753.09L283.29 753.09Z" fill="#0000ff"/>
<path d="M298.31 763.85L303.81 773.55L292.81 773.55Z" fill="#0000ff"/>
<path d="M307.82 793.01L313.32 802.71L302.32 802.71Z" fill="#0000ff"/>
<path d="M317.33 838.04L322.83 847.74L311.83 847.74Z" fill="#0000ff"/>
<path d="M326.85 941.39L332.35 951.09L321.35 951.09Z" fill="#0000ff"/>
<path d="M336.36 1006.36L341.86 1016.06L330.86 1016.06Z" fill="#0000ff"/>
<path d="M345.88 1028.36L351.38 1038.06L340.38 1038.06Z" fill="#0000ff"/>
<path d="M355.39 1038.59L360.89 1048.29L349.89 1048.29Z" fill="#0000ff"/>
<path d="M364.9 1038.59L370.4 1048.29L359.4 1048.29Z" fill="#0000ff"/>
<path d="M374.42 1038.59L379.92 1048.29L368.92 1048.29Z" fill="#0000ff"/>
<path d="M383.93 1038.59L389.43 1048.29L378.43 1048.29Z" fill="#0000ff"/>
<path d="M393.45 1038.59L398.95 1048.29L387.95 1048.29Z" fill="#0000ff"/>
<path d="M402.96 1038.59L408.46 1048.29L397.46 1048.29Z" fill="#0000ff"/>
<path d="M412.47 1038.59L417.97 1048.29L406.97 1048.29Z" fill="#0000ff"/>
<path d="M421.99 1038.59L427.49 1048.29L416.49 1048.29Z" fill="#0000ff"/>
<path d="M431.5 1038.59L437 1048.29L426 1048.29Z" fill="#0000ff"/>
<path d="M441.02 1038.59L446.52 1048.29L435.52 1048.29Z" fill="#0000ff"/>
<path d="M450.53 1038.59L456.03 1048.29L445.03 1048.29Z" fill="#0000ff"/>
<path d="M460.04 1038.59L465.54 1048.29L454.54 1048.29Z" fill="#0000ff"/>
<path d="M469.56 1038.59L475.06 1048.29L464.06 1048.29Z" fill="#0000ff"/>
<path d="M479.07 1038.59L484.57 1048.29L473.57 1048.29Z" fill="#0000ff"/>
<path d="M488.59 1038.59L494.09 1048.29L483.09 1048.29Z" fill="#0000ff"/>
<path d="M498.1 1038.59L503.6 1048.29L492.6 1048.29Z" fill="#0000ff"/>
<path d="M507.61 1038.59L513.11 1048.29L502.11 1048.29Z" fill="#0000ff"/>
<path d="M517.13 1038.59L522.63 1048.29L511.63 1048.29Z" fill="#0000ff"/>
<path d="M526.64 1038.59L532.14 1048.29L521.14 1048.29Z" fill="#0000ff"/>
<path d="M536.16 1038.59L541.66 1048.29L530.66 1048.29Z" fill="#0000ff"/>
<path d="M545.67 1038.59L551.17 1048.29L540.17 1048.29Z" fill="#0000ff"/>
<path d="M555.18 1038.59L560.68 1048.29L549.68 1048.29Z" fill="#0000ff"/>
<path d="M564.7 1038.59L570.2 1048.29L559.2 1048.29Z" fill="#0000ff"/>
<path d="M574.21 1038.59L579.71 1048.29L568.71 1048.29Z" fill="#0000ff"/>
<path d="M583.73 1038.59L589.23 1048.29L578.23 1048.29Z" fill="#0000ff"/>
<path d="M593.24 1038.59L598.74 1048.29L587.74 1048.29Z" fill="#0000ff"/>
<path d="M602.75 1038.59L608.25 1048.29L597.25 1048.29Z" fill="#0000ff"/>
<path d="M612.27 1038.59L617.77 1048.29L606.77 1048.29Z" fill="#0000ff"/>
<path d="M621.78 1038.59L627.28 1048.29L616.28 1048.29Z" fill="#0000ff"/>
<path d="M631.3 1038.59L636.8 1048.29L625.8 1048.29Z" fill="#0000ff"/>
<path d="M640.81 1038.59L646.31 1048.29L635.31 1048.29Z" fill="#0000ff"/>
<path d="M650.32 1038.59L655.82 1048.29L644.82 1048.29Z" fill="#0000ff"/>
<path d="M659.84 1038.59L665.34 1048.29L654.34 1048.29Z" fill="#0000ff"/>
<polyline points="89,946.83 98.51,934.55 108.03,919.2 117.54,900.27 127.06,869.06 136.57,805.11 146.08,689.48 155.6,691.02 165.11,691.02 174.63,685.9 184.14,691.02 193.65,694.6 203.17,699.2 212.68,704.83 222.2,711.48 231.71,718.65 241.22,725.81 250.74,734.51 260.25,744.74 269.77,757.02 279.28,770.32 288.79,786.69 298.31,808.18 307.82,835.81 317.33,879.29 326.85,981.11 336.36,1045.06 345.88,1045.06 355.39,1045.06 364.9,1045.06 374.42,1045.06 383.93,1045.06 393.45,1045.06 402.96,1045.06 412.47,1045.06 421.99,1045.06 431.5,1045.06 441.02,1045.06 450.53,1045.06 460.04,1045.06 469.56,1045.06 479.07,1045.06 488.59,1045.06 498.1,1045.06 507.61,1045.06 517.13,1045.06 526.64,1045.06 536.16,1045.06 545.67,1045.06 555.18,1045.06 564.7,1045.06 574.21,1045.06 583.73,1045.06 593.24,1045.06 602.75,1045.06 612.27,1045.06 621.78,1045.06 631.3,1045.06 640.81,1045.06 650.32,1045.06 659.84,1045.06" fill="none" stroke="#ff00ff" stroke-width="2.0" stroke-linejoin="round"/>
<path d="M83.5 943.6L94.5 943.6L89 953.3Z" fill="#ff00ff"/>
<path d="M93.01 931.32L104.01 931.32L98.51 941.02Z" fill="#ff00ff"/>
<path d="M102.53 915.97L113.53 915.97L108.03 925.67Z" fill="#ff00ff"/>
<path d="M112.04 897.04L123.04 897.04L117.54 906.74Z" fill="#ff00ff"/>
<path d="M121.56 865.83L132.56 865.83L127.06 875.53Z" fill="#ff00ff"/>
<path d="M131.07 801.88L142.07 801.88L136.57 811.58Z" fill="#ff00ff"/>
<path d="M140.58 686.25L151.58 686.25L146.08 695.95Z" fill="#ff00ff"/>
<path d="M150.1 687.78L161.1 687.78L155.6 697.48Z" fill="#ff00ff"/>
<path d="M159.61 687.78L170.61 687.78L165.11 697.48Z" fill="#ff00ff"/>
<path d="M169.13 682.67L180.13 682.67L174.63 692.37Z" fill="#ff00ff"/>
<path d="M178.64 687.78L189.64 687.78L184.14 697.48Z" fill="#ff00ff"/>
<path d="M188.15 691.37L199.15 691.37L193.65 701.07Z" fill="#ff00ff"/>
<path d="M197.67 695.97L208.67 695.97L203.17 705.67Z" fill="#ff00ff"/>
<path d="M207.18 701.6L218.18 701.6L212.68 711.3Z" fill="#ff00ff"/>
<path d="M216.7 708.25L227.7 708.25L222.2 717.95Z" fill="#ff00ff"/>
<path d="M226.21 715.41L237.21 715.41L231.71 725.11Z" fill="#ff00ff"/>
<path d="M235.72 722.57L246.72 722.57L241.22 732.27Z" fill="#ff00ff"/>
<path d="M245.24 731.27L256.24 731.27L250.74 740.97Z" fill="#ff00ff"/>
<path d="M254.75 741.5L265.75 741.5L260.25 751.2Z" fill="#ff00ff"/>
<path d="M264.27 753.78L275.27 753.78L269.77 763.48Z" fill="#ff00ff"/>
<path d="M273.78 767.09L284.78 767.09L279.28 776.79Z" fill="#ff00ff"/>
<path d="M283.29 783.46L294.29 783.46L288.79 793.16Z" fill="#ff00ff"/>
<path d="M292.81 804.95L303.81 804.95L298.31 814.65Z" fill="#ff00ff"/>
<path d="M302.32 832.57L313.32 832.57L307.82 842.27Z" fill="#ff00ff"/>
<path d="M311.83 876.06L322.83 876.06L317.33 885.76Z" fill="#ff00ff"/>
<path d="M321.35 977.87L332.35 977.87L326.85 987.57Z" fill="#ff00ff"/>
<path d="M330.86 1041.83L341.86 1041.83L336.36 1051.53Z" fill="#ff00ff"/>
<path d="M340.38 1041.83L351.38 1041.83L345.88 1051.53Z" fill="#ff00ff"/>
<path d="M349.89 1041.83L360.89 1041.83L355.39 1051.53Z" fill="#ff00ff"/>
<path d="M359.4 1041.83L370.4 1041.83L364.9 1051.53Z" fill="#ff00ff"/>
<path d="M368.92 1041.83L379.92 1041.83L374.42 1051.53Z" fill="#ff00ff"/>
<path d="M378.43 1041.83L389.43 1041.83L383.93 1051.53Z" fill="#ff00ff"/>
<path d="M387.95 1041.83L398.95 1041.83L393.45 1051.53Z" fill="#ff00ff"/>
<path d="M397.46 1041.83L408.46 1041.83L402.96 1051.53Z" fill="#ff00ff"/>
<path d="M406.97 1041.83L417.97 1041.83L412.47 1051.53Z" fill="#ff00ff"/>
<path d="M416.49 1041.83L427.49 1041.83L421.99 1051.53Z" fill="#ff00ff"/>
<path d="M426 1041.83L437 1041.83L431.5 1051.53Z" fill="#ff00ff"/>
<path d="M435.52 1041.83L446.52 1041.83L441.02 1051.53Z" fill="#ff00ff"/>
<path d="M445.03 1041.83L456.03 1041.83L450.53 1051.53Z" fill="#ff00ff"/>
<path d="M454.54 1041.83L465.54 1041.83L460.04 1051.53Z" fill="#ff00ff"/>
<path d="M464.06 1041.83L475.06 1041.83L469.56 1051.53Z" fill="#ff00ff"/>
<path d="M473.57 1041.83L484.57 1041.83L479.07 1051.53Z" fill="#ff00ff"/>
<path d="M483.09 1041.83L494.09 1041.83L488.59 1051.53Z" fill="#ff00ff"/>
<path d="M492.6 1041.83L503.6 1041.83L498.1 1051.53Z" fill="#ff00ff"/>
<path d="M502.11 1041.83L513.11 1041.83L507.61 1051.53Z" fill="#ff00ff"/>
<path d="M511.63 1041.83L522.63 1041.83L517.13 1051.53Z" fill="#ff00ff"/>
<path d="M521.14 1041.83L532.14 1041.83L526.64 1051.53Z" fill="#ff00ff"/>
<path d="M530.66 1041.83L541.66 1041.83L536.16 1051.53Z" fill="#ff00ff"/>
<path d="M540.17 1041.83L551.17 1041.83L545.67 1051.53Z" fill="#ff00ff"/>
<path d="M549.68 1041.83L560.68 1041.83L555.18 1051.53Z" fill="#ff00ff"/>
<path d="M559.2 1041.83L570.2 1041.83L564.7 1051.53Z" fill="#ff00ff"/>
<path d="M568.71 1041.83L579.71 1041.83L574.21 1051.53Z" fill="#ff00ff"/>
<path d="M578.23 1041.83L589.23 1041.83L583.73 1051.53Z" fill="#ff00ff"/>
<path d="M587.74 1041.83L598.74 1041.83L593.24 1051.53Z" fill="#ff00ff"/>
<path d="M597.25 1041.83L608.25 1041.83L602.75 1051.53Z" fill="#ff00ff"/>
<path d="M606.77 1041.83L617.77 1041.83L612.27 1051.53Z" fill="#ff00ff"/>
<path d="M616.28 1041.83L627.28 1041.83L621.78 1051.53Z" fill="#ff00ff"/>
<path d="M625.8 1041.83L636.8 1041.83L631.3 1051.53Z" fill="#ff00ff"/>
<path d="M635.31 1041.83L646.31 1041.83L640.81 1051.53Z" fill="#ff00ff"/>
<path d="M644.82 1041.83L655.82 1041.83L650.32 1051.53Z" fill="#ff00ff"/>
<path d="M654.34 1041.83L665.34 1041.83L659.84 1051.53Z" fill="#ff00ff"/>
</g>
<text transform="translate(89,1089) scale(1,1.045)" font-family="Liberation Sans" font-size="23.5" text-anchor="middle">300</text>
<text transform="translate(184.14,1089) scale(1,1.045)" font-family="Liberation Sans" font-size="23.5" text-anchor="middle">400</text>
<text transform="translate(279.28,1089) scale(1,1.045)" font-family="Liberation Sans" font-size="23.5" text-anchor="middle">500</text>
<text transform="translate(374.42,1089) scale(1,1.045)" font-family="Liberation Sans" font-size="23.5" text-anchor="middle">600</text>
<text transform="translate(469.56,1089) scale(1,1.045)" font-family="Liberation Sans" font-size="23.5" text-anchor="middle">700</text>
<text transform="translate(564.7,1089) scale(1,1.045)" font-family="Liberation Sans" font-size="23.5" text-anchor="middle">800</text>
<text transform="translate(659.84,1089) scale(1,1.045)" font-family="Liberation Sans" font-size="23.5" text-anchor="middle">900</text>
<text transform="translate(73.6,1052.66) scale(1,1.045)" font-family="Liberation Sans" font-size="23.5" text-anchor="end">0</text>
<text transform="translate(73.6,950.34) scale(1,1.045)" font-family="Liberation Sans" font-size="23.5" text-anchor="end">20</text>
<text transform="translate(73.6,848.01) scale(1,1.045)" font-family="Liberation Sans" font-size="23.5" text-anchor="end">40</text>
<text transform="translate(73.6,745.69) scale(1,1.045)" font-family="Liberation Sans" font-size="23.5" text-anchor="end">60</text>
<text transform="translate(73.6,643.36) scale(1,1.045)" font-family="Liberation Sans" font-size="23.5" text-anchor="end">80</text>
<text transform="translate(97.5,621.2) scale(1,1.045)" font-family="Liberation Sans" font-size="35" font-weight="bold">(b)</text>
<text transform="translate(266,1125.5) scale(1,1.045)" font-family="Liberation Sans" font-size="28.2" font-weight="bold">Wavelength (nm)</text>
<text transform="translate(31,874.1) rotate(-90) scale(1,1.045)" font-family="Liberation Sans" font-size="27.8" font-weight="bold">QE (%)</text>
<rect x="401.2" y="593.6" width="251.5" height="130.3" fill="none" stroke="#959595" stroke-width="2"/>
<line x1="417.2" y1="615.0" x2="471.7" y2="615.0" stroke="#000000" stroke-width="2"/>
<rect x="440.25" y="610.8" width="8.4" height="8.4" fill="#000000"/>
<text transform="translate(477.5,623.5) scale(1,1.045)" font-family="Liberation Sans" font-size="24" font-weight="bold">CuI</text>
<line x1="417.2" y1="644.9" x2="471.7" y2="644.9" stroke="#ff0000" stroke-width="2"/>
<circle cx="444.45" cy="644.9" r="4.8" fill="#ff0000"/>
<text transform="translate(477.5,653.4) scale(1,1.045)" font-family="Liberation Sans" font-size="24" font-weight="bold">CuSCN</text>
<line x1="417.2" y1="674.5" x2="471.7" y2="674.5" stroke="#0000ff" stroke-width="2"/>
<path d="M444.45 667.83L450.15 677.83L438.75 677.83Z" fill="#0000ff"/>
<text transform="translate(477.5,683) scale(1,1.045)" font-family="Liberation Sans" font-size="24" font-weight="bold">Cu<tspan font-size="13" dy="8.5">2</tspan><tspan dy="-8.5">O</tspan></text>
<line x1="417.2" y1="711.3" x2="471.7" y2="711.3" stroke="#ff00ff" stroke-width="2"/>
<path d="M438.75 707.97L450.15 707.97L444.45 717.97Z" fill="#ff00ff"/>
<text transform="translate(477.5,719.8) scale(1,1.045)" font-family="Liberation Sans" font-size="24" font-weight="bold">Spiro-OMeTAD</text>
</svg>
</body></html>
